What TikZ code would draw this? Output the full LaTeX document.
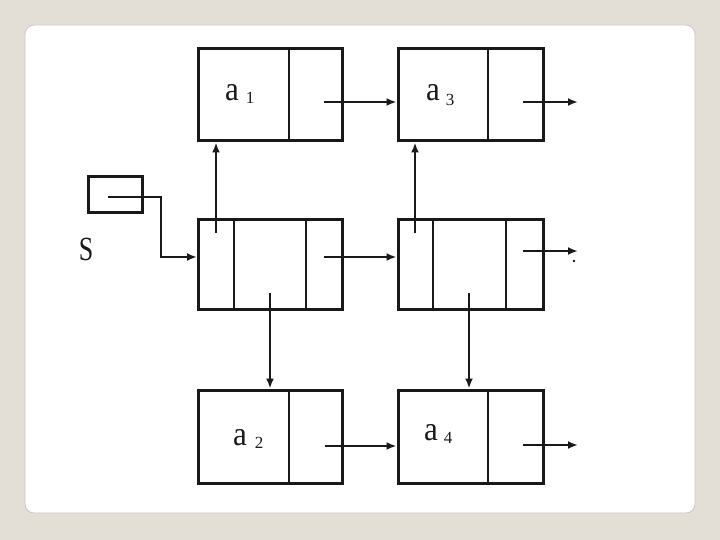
\documentclass[tikz,border=0pt]{standalone}
\usepackage{fontspec}
\setmainfont{Liberation Serif}
\usetikzlibrary{arrows.meta}
\definecolor{bgc}{RGB}{228,223,214}
\definecolor{ink}{RGB}{25,25,25}
\tikzset{
  cellbox/.style={draw=ink, line width=3pt, rectangle, inner sep=0pt},
  divider/.style={draw=ink, line width=2.8pt},
  conn/.style={draw=ink, line width=2.3pt, -{Latex[length=10pt,width=8pt]}},
  lbla/.style={font=\fontsize{31}{31}\selectfont, inner sep=0pt, anchor=base, text=ink},
  lbld/.style={font=\fontsize{17}{17}\selectfont, inner sep=0pt, anchor=base, text=ink},
}
\begin{document}
\begin{tikzpicture}[x=1pt,y=-1pt]
\useasboundingbox (0,0) rectangle (720,540);
\fill[bgc] (0,0) rectangle (720,540);
\draw[fill=white, draw=gray!45, line width=0.8pt, rounded corners=9pt] (25,25) rectangle (695,513);

% boxes
\node[cellbox, minimum width=144pt, minimum height=92pt] (a1) at (270.5,95) {};
\node[cellbox, minimum width=145pt, minimum height=92pt] (a3) at (470.5,95) {};
\node[cellbox, minimum width=144pt, minimum height=90pt] (m1) at (270.5,264.5) {};
\node[cellbox, minimum width=145pt, minimum height=90pt] (m2) at (470.5,264.5) {};
\node[cellbox, minimum width=144pt, minimum height=93pt] (a2) at (270.5,436.5) {};
\node[cellbox, minimum width=145pt, minimum height=93pt] (a4) at (470.5,436.5) {};
\node[cellbox, minimum width=54pt, minimum height=36pt] (s) at (115.5,195) {};

% dividers
\draw[divider] (289,49) -- (289,141);
\draw[divider] (488,49) -- (488,141);
\draw[divider] (234,219.5) -- (234,309.5);
\draw[divider] (306,219.5) -- (306,309.5);
\draw[divider] (433,219.5) -- (433,309.5);
\draw[divider] (506,219.5) -- (506,309.5);
\draw[divider] (289,390) -- (289,483);
\draw[divider] (488,390) -- (488,483);

% labels
\node[lbla] (la1) at (232,101) {\scalebox{1}[1.1]{a}};
\node[lbld] (ld1) at (250,104) {1};
\node[lbla] (la3) at (433,101) {\scalebox{1}[1.1]{a}};
\node[lbld] (ld3) at (450,106) {3};
\node[lbla] (la2) at (240,445) {\scalebox{1}[1.1]{a}};
\node[lbld] (ld2) at (259,448) {2};
\node[lbla] (la4) at (431,440) {\scalebox{1}[1.1]{a}};
\node[lbld] (ld4) at (448,443) {4};
\node[font=\fontsize{26}{26}\selectfont, inner sep=0pt, text=ink] (slbl) at (86,249) {\scalebox{1}[1.3]{S}};

% start points
\coordinate (sp) at (108,197);
\coordinate (sc) at (161,197);
\coordinate (m1u) at (216,233);
\coordinate (m1d) at (270,293);
\coordinate (m1r) at (324,257);
\coordinate (m2u) at (415,233);
\coordinate (m2d) at (469,293);
\coordinate (m2r) at (523,251);
\coordinate (m2e) at (578,251);
\coordinate (a1r) at (324,102);
\coordinate (a3r) at (523,102);
\coordinate (a3e) at (578,102);
\coordinate (a2r) at (325,446);
\coordinate (a4r) at (523,445);
\coordinate (a4e) at (578,445);

% connectors
\draw[conn] (sp) -- (sc) |- (m1.west |- m1r);
\draw[conn] (m1u) -- (m1u |- a1.south);
\draw[conn] (m1d) -- (m1d |- a2.north);
\draw[conn] (m1r) -- (m1r -| m2.west);
\draw[conn] (m2u) -- (m2u |- a3.south);
\draw[conn] (m2d) -- (m2d |- a4.north);
\draw[conn] (m2r) -- (m2e);
\draw[conn] (a1r) -- (a1r -| a3.west);
\draw[conn] (a3r) -- (a3e);
\draw[conn] (a2r) -- (a2r -| a4.west);
\draw[conn] (a4r) -- (a4e);
\fill[ink] (574,261) circle (1.4pt);
\end{tikzpicture}
\end{document}
